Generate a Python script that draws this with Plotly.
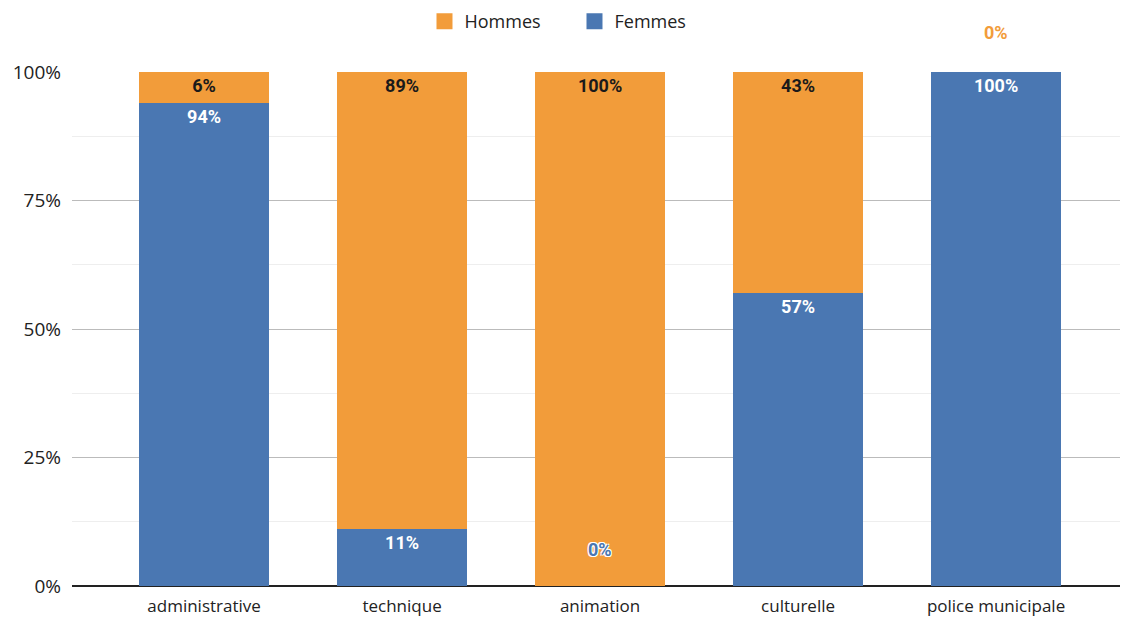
import plotly.graph_objects as go

categories = ["administrative", "technique", "animation", "culturelle", "police municipale"]
hommes = [6, 89, 100, 43, 0]
femmes = [94, 11, 0, 57, 100]
y_ticks = [0, 25, 50, 75, 100]
y_tick_labels = ["0%", "25%", "50%", "75%", "100%"]

ORANGE = "#F29C3A"
BLUE = "#4A77B2"
LABEL_FONT = "Roboto"

fig = go.Figure()
fig.add_trace(go.Bar(
    x=categories, y=femmes, name="Femmes", marker_color=BLUE, marker_line_width=0,
    text=[f"{v}%" if v > 0 else "" for v in femmes],
    textposition="inside", insidetextanchor="end",
    textfont=dict(family=LABEL_FONT, size=18, color="white", weight="bold"),
    width=0.655, showlegend=False,
))
fig.add_trace(go.Bar(
    x=categories, y=hommes, name="Hommes", marker_color=ORANGE, marker_line_width=0,
    text=[f"{v}%" if v > 0 else "" for v in hommes],
    textposition="inside", insidetextanchor="end",
    textfont=dict(family=LABEL_FONT, size=18, color="#1a1a1a", weight="bold"),
    width=0.655, showlegend=False,
))
# legend entries with larger square swatches
for name, col in [("Hommes", ORANGE), ("Femmes", BLUE)]:
    fig.add_trace(go.Scatter(x=[None], y=[None], mode="markers", name=name,
                             marker=dict(symbol="square", size=21, color=col)))

# zero-value labels
for i, c in enumerate(categories):
    if hommes[i] == 0:
        fig.add_annotation(x=c, y=femmes[i] + hommes[i], yshift=40, text=f"{hommes[i]}%",
                           showarrow=False,
                           font=dict(family=LABEL_FONT, size=18, color=ORANGE, weight="bold"))
    if femmes[i] == 0:
        fig.add_annotation(x=c, y=femmes[i], yshift=37, text=f"{femmes[i]}%",
                           showarrow=False,
                           font=dict(family=LABEL_FONT, size=18, color=BLUE, weight="bold",
                                     shadow="1px 1px 0 white, -1px -1px 0 white, 1px -1px 0 white, -1px 1px 0 white"))

fig.update_layout(
    barmode="stack",
    width=1123, height=621,
    margin=dict(l=72, r=3, t=72, b=35),
    paper_bgcolor="white", plot_bgcolor="white",
    font=dict(family="Open Sans", size=18, color="#222222"),
    legend=dict(orientation="h", x=0.378, xref="container", xanchor="left",
                y=0.995, yref="container", yanchor="top", traceorder="normal",
                font=dict(size=18), itemwidth=30,
                entrywidth=105, entrywidthmode="pixels"),
    showlegend=True,
)
fig.update_xaxes(range=[-0.667, 4.626], showgrid=False, ticks="",
                 tickfont=dict(size=17, color="#222222"), ticklabelstandoff=8)
fig.update_yaxes(range=[0, 100], tickvals=y_ticks, ticktext=y_tick_labels,
                 showgrid=True, gridcolor="#BBBBBB", gridwidth=1,
                 zeroline=True, zerolinecolor="#222222", zerolinewidth=2,
                 minor=dict(dtick=12.5, showgrid=True, gridcolor="#EEEEEE"),
                 tickfont=dict(size=19, color="#222222"), ticklabelstandoff=10)

fig.write_html("out.html")
